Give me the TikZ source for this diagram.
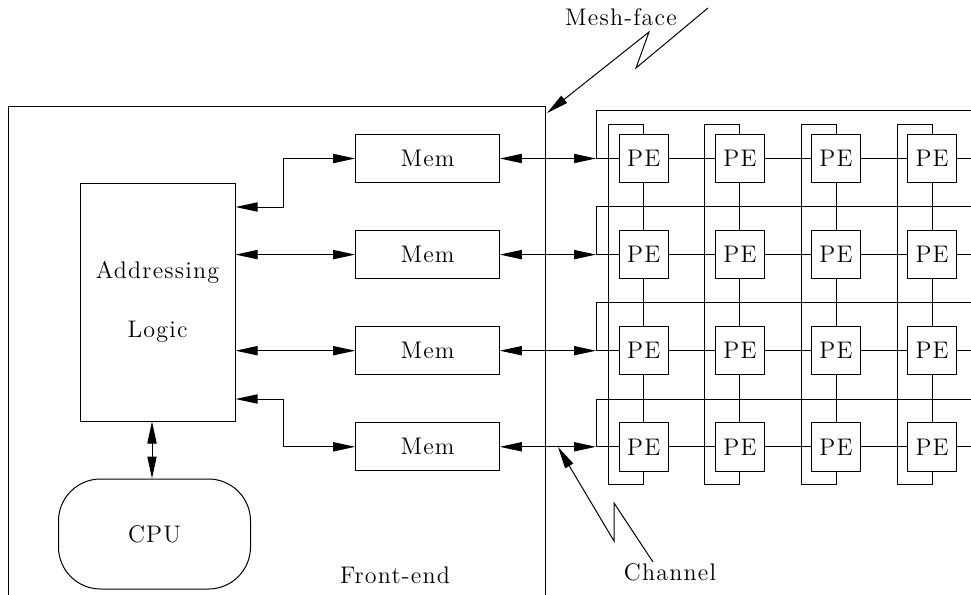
\documentclass[tikz,border=0pt]{standalone}
\usepackage{fontspec}
\setmainfont{Latin Modern Roman}[LetterSpace=5]
\usetikzlibrary{arrows.meta}
\begin{document}
\begin{tikzpicture}[x=0.5pt,y=-0.5pt,line width=0.5pt,
  every node/.style={font=\fontsize{12}{14}\selectfont},
  box/.style={draw,rectangle,inner sep=0pt},
  memnode/.style={box,minimum width=71.8pt,minimum height=23.85pt},
  penode/.style={box,minimum width=24.25pt,minimum height=24.25pt},
  tipend/.style={-{Triangle[length=11pt,width=4.6pt]}},
  bothends/.style={{Triangle[length=11pt,width=4.6pt]}-{Triangle[length=11pt,width=4.6pt]}}]
\useasboundingbox (0,0) rectangle (971,595);

% front-end enclosure (open at the bottom)
\draw (8,595) -- (8,106.5) -- (545,106.5) -- (545,595);
\node (fe) at (395,575) {Front-end};

% addressing logic and CPU
\node[box,minimum width=77.5pt,minimum height=119pt,align=center] (al) at (157.5,302) {Addressing\\[15.5pt]Logic};
\node[draw,rounded corners=21pt,minimum width=96pt,minimum height=55pt] (cpu) at (154.5,534) {CPU};
\draw[bothends] ([xshift=-2.75pt]al.south) -- ([xshift=-2.75pt]al.south |- cpu.north);

% memory banks and PE rows
\foreach \r/\y in {1/158.5,2/254.6,3/350.7,4/446.8} {
  \node[memnode] (m\r) at (427.5,\y) {Mem};
  \coordinate (r\r) at (596,\y);
  \coordinate (w\r) at (596,\y-47.8);
  \coordinate (e\r) at (971,\y-47.8);
  \coordinate (x\r) at (971,\y);
  \foreach \c/\x in {1/643.8,2/739.9,3/836,4/932.1}
    \node[penode] (p\r\c) at (\x,\y) {PE};
}

% addressing logic to memories
\draw[bothends] ([yshift=47.5pt]al.east) -- ++(24.15pt,0) |- (m1.west);
\draw[bothends] (al.east |- m2.west) -- (m2.west);
\draw[bothends] (al.east |- m3.west) -- (m3.west);
\draw[bothends] ([yshift=-48.5pt]al.east) -- ++(24.15pt,0) |- (m4.west);

% channels into the mesh, row links and row wrap-around
\foreach \r in {1,2,3,4} {
  \draw[bothends] (m\r.east) -- (r\r);
  \draw (r\r) -- (w\r) -- (e\r);
  \draw (r\r) -- (p\r1.west) (p\r1.east) -- (p\r2.west)
        (p\r2.east) -- (p\r3.west) (p\r3.east) -- (p\r4.west)
        (p\r4.east) -- (x\r);
}

% column links and column wrap-around
\foreach \c/\x in {1/643.8,2/739.9,3/836,4/932.1} {
  \coordinate (t\c) at (\x-35,124);
  \coordinate (b\c) at (\x-35,484);
  \draw (p1\c.north) |- (t\c) -- (b\c) -| (p4\c.south);
  \draw (p1\c.south) -- (p2\c.north) (p2\c.south) -- (p3\c.north)
        (p3\c.south) -- (p4\c.north);
}

% callouts
\node (mf) at (621,17) {Mesh-face};
\coordinate (mf0) at (708,8);
\coordinate (mf1) at (636,68);
\coordinate (mf2) at (649,32);
\coordinate (mf3) at (547,113);
\draw[tipend] (mf0) -- (mf1) -- (mf2) -- (mf3);

\node (ch) at (670,572) {Channel};
\coordinate (ch0) at (653,562);
\coordinate (ch1) at (614,503);
\coordinate (ch2) at (614,541);
\coordinate (ch3) at (558,447);
\draw[tipend] (ch0) -- (ch1) -- (ch2) -- (ch3);
\end{tikzpicture}
\end{document}
